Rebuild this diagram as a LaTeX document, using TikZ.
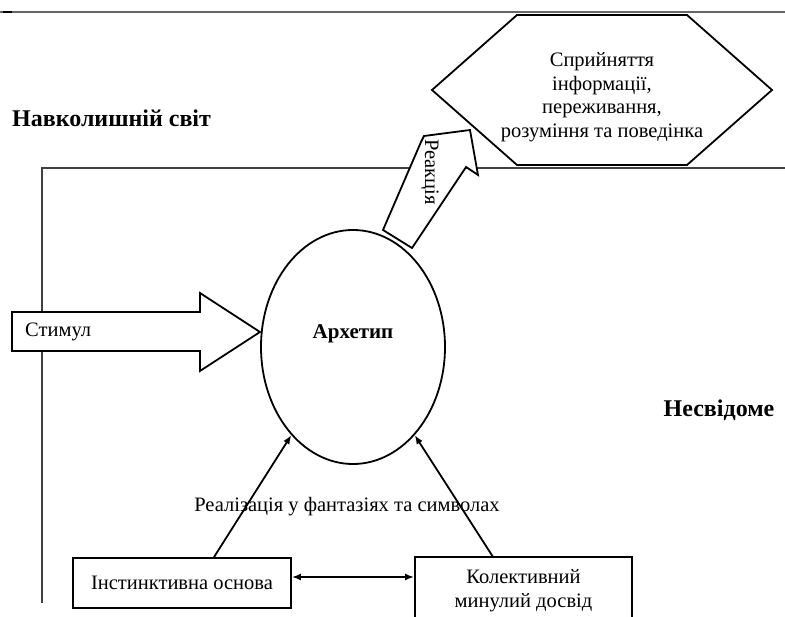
\documentclass[tikz,border=0pt]{standalone}
\usepackage{fontspec}
\setmainfont{Liberation Serif}
\usetikzlibrary{shapes.geometric,arrows.meta}
\tikzset{
  regtext/.style={font=\fontsize{20.5}{23.5}\selectfont, inner sep=0pt},
  boldtext/.style={font=\fontsize{24}{27}\bfseries\selectfont, inner sep=0pt},
  framel/.style={draw=black!75, line width=2pt},
  shapel/.style={draw=black, line width=1.8pt},
  blockarrow/.style={draw=black, line width=1.8pt, fill=white, line join=miter},
  boxnode/.style={draw=black, line width=1.8pt, rectangle, inner sep=0pt, align=center, font=\fontsize{20.5}{24}\selectfont},
  thinarrow/.style={draw=black, line width=1.8pt, -{Latex[length=9pt,width=7pt]}},
  dblarrow/.style={draw=black, line width=1.8pt, {Latex[length=9pt,width=7pt]}-{Latex[length=9pt,width=7pt]}}
}
\begin{document}
\begin{tikzpicture}[x=1pt,y=-1pt]
\useasboundingbox (0,0) rectangle (785,617);
% top rule
\draw[draw=black!60, line width=1.8pt] (0,12) -- (785,12);
\draw[draw=black, line width=2.5pt] (3,12) -- (12,12);
% frame of the unconscious
\coordinate (fb) at (42,603);
\coordinate (fc) at (42,168);
\coordinate (fr) at (785,168);
\draw[framel] (fb) -- (fc) -- (fr);
% hexagon
\draw[shapel, fill=white] (432,90) -- (517,15) -- (687,15) -- (772,90) -- (687,165) -- (517,165) -- cycle;
\node[regtext, align=center] (hex) at (602,97) {Сприйняття\\інформації,\\переживання,\\розуміння та поведінка};
% labels
\node[boldtext, anchor=west] (world) at (12,118) {Навколишній світ};
\node[boldtext] (uncon) at (719,410) {Несвідоме};
% archetype ellipse
\node[ellipse, shapel, minimum width=184pt, minimum height=234pt, inner sep=0pt] (arch) at (353,347) {};
\node[font=\fontsize{21}{24}\bfseries\selectfont, inner sep=0pt] (archt) at (353,334) {Архетип};
% stimulus arrow
\draw[blockarrow] (12,312) -- (200,312) -- (200,293) -- (260,332) -- (200,371) -- (200,351) -- (12,351) -- cycle;
\node[regtext, anchor=west] (stim) at (25,332) {Стимул};
% reaction arrow
\draw[blockarrow] (383,230) -- (421,142) -- (424,136) -- (470,130) -- (478,175) -- (466,167) -- (412,248) -- cycle;
\node[regtext, rotate=-90] (react) at (430,172) {Реакція};
% realisation label
\node[regtext] (real) at (347,507) {Реалізація у фантазіях та символах};
% bottom boxes
\node[boxnode, minimum width=218pt, minimum height=50pt] (inst) at (182,583) {Інстинктивна основа};
\node[boxnode, minimum width=217pt, minimum height=68pt] (coll) at (523.5,591) {Колективний\\минулий досвід};
% connectors
\draw[thinarrow] ([xshift=32pt]inst.north) -- (arch.235);
\draw[thinarrow] ([xshift=-31pt]coll.north) -- (arch.305);
\coordinate (da) at ([yshift=6pt]inst.east);
\draw[dblarrow] (da) -- (da -| coll.west);
\end{tikzpicture}
\end{document}
